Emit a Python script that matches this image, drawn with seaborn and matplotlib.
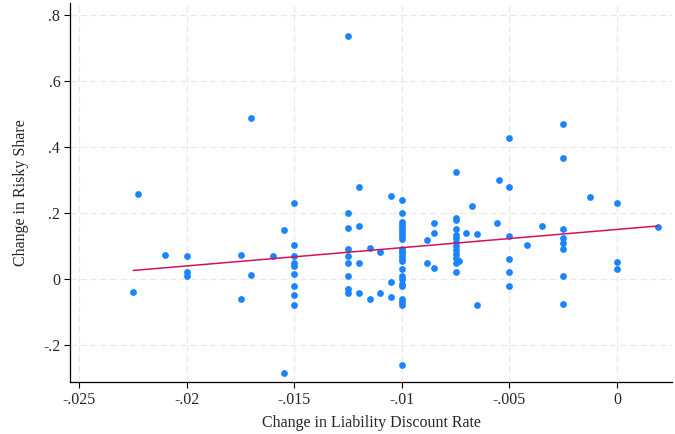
import matplotlib
matplotlib.use("Agg")
import matplotlib.pyplot as plt
import seaborn as sns
import pandas as pd

# ---- data ----
x_vals = [
    -0.0223, -0.0225, -0.021, -0.020, -0.020, -0.020, -0.0175, -0.0175,
    -0.017, -0.017, -0.016, -0.0155, -0.0155,
    -0.015, -0.015, -0.015, -0.015, -0.015, -0.015, -0.015, -0.015, -0.015,
    -0.0125, -0.0125, -0.0125, -0.0125, -0.0125, -0.0125, -0.0125, -0.0125, -0.0125,
    -0.012, -0.012, -0.012, -0.012,
    -0.0115, -0.0115, -0.011, -0.011,
    -0.0105, -0.0105, -0.0105,
    -0.010, -0.010, -0.010, -0.010, -0.010, -0.010, -0.010, -0.010, -0.010, -0.010,
    -0.010, -0.010, -0.010, -0.010, -0.010, -0.010, -0.010, -0.010, -0.010, -0.010,
    -0.010, -0.010, -0.010, -0.010,
    -0.00885, -0.00885,
    -0.0085, -0.0085, -0.0085,
    -0.0075, -0.0075, -0.0075, -0.0075, -0.0075, -0.0075, -0.0075, -0.0075, -0.0075,
    -0.0075, -0.0075, -0.0075, -0.0075,
    -0.00735, -0.007, -0.00675, -0.0065, -0.0065, -0.0056, -0.0055,
    -0.005, -0.005, -0.005, -0.005, -0.005, -0.005,
    -0.0042, -0.0035,
    -0.0025, -0.0025, -0.0025, -0.0025, -0.0025, -0.0025, -0.0025, -0.0025,
    -0.00125, 0.0, 0.0, 0.0, 0.0019,
]
y_vals = [
    0.257, -0.039, 0.073, 0.071, 0.020, 0.010, 0.074, -0.060,
    0.487, 0.011, 0.070, 0.149, -0.284,
    0.230, 0.103, 0.070, 0.049, 0.040, 0.014, -0.020, -0.049, -0.080,
    0.737, 0.199, 0.155, 0.090, 0.070, 0.049, 0.010, -0.030, -0.043,
    0.279, 0.160, 0.049, -0.042,
    0.095, -0.061, 0.081, -0.043,
    0.252, -0.010, -0.054,
    0.239, 0.199, 0.172, 0.163, 0.155, 0.147, 0.138, 0.130, 0.122, 0.092,
    0.085, 0.078, 0.070, 0.062, 0.055, 0.030, 0.010, 0.000, -0.015, -0.022,
    -0.062, -0.070, -0.078, -0.259,
    0.119, 0.048,
    0.170, 0.139, 0.034,
    0.323, 0.186, 0.179, 0.150, 0.133, 0.123, 0.113, 0.100, 0.088,
    0.075, 0.063, 0.048, 0.022,
    0.053, 0.139, 0.222, 0.135, -0.080, 0.170, 0.299,
    0.428, 0.279, 0.130, 0.061, 0.020, -0.020,
    0.103, 0.161,
    0.471, 0.368, 0.150, 0.123, 0.108, 0.090, 0.010, -0.077,
    0.249, 0.231, 0.051, 0.029, 0.159,
]
x_ticks = [-0.025, -0.02, -0.015, -0.01, -0.005, 0.0]
x_tick_labels = ["-.025", "-.02", "-.015", "-.01", "-.005", "0"]
y_ticks = [-0.2, 0.0, 0.2, 0.4, 0.6, 0.8]
y_tick_labels = ["-.2", "0", ".2", ".4", ".6", ".8"]
x_label = "Change in Liability Discount Rate"
y_label = "Change in Risky Share"

df = pd.DataFrame({"x": x_vals, "y": y_vals})

sns.set_theme(style="white")
plt.rcParams["font.family"] = ["Liberation Serif", "DejaVu Serif"]

fig = plt.figure(figsize=(6.75, 4.34), dpi=100)
ax = fig.add_axes([70 / 675, 1 - 382 / 434, 602 / 675, 379 / 434])

sns.scatterplot(data=df, x="x", y="y", ax=ax, color="#1a85ff", s=24,
                linewidth=0, zorder=3)
sns.regplot(data=df, x="x", y="y", ax=ax, scatter=False, ci=None,
            color="#d41159", line_kws={"linewidth": 1.1, "zorder": 4})

ax.set_xlim(-0.02544, 0.00256)
ax.set_ylim(-0.312, 0.836)
ax.set_xticks(x_ticks)
ax.set_xticklabels(x_tick_labels)
ax.set_yticks(y_ticks)
ax.set_yticklabels(y_tick_labels)

ax.grid(True, color="#e8e8e8", linestyle=(0, (5, 3)), linewidth=0.9, zorder=0)
ax.set_axisbelow(True)
for side in ["top", "right"]:
    ax.spines[side].set_visible(False)
for side in ["left", "bottom"]:
    ax.spines[side].set_color("black")
    ax.spines[side].set_linewidth(0.9)

ax.tick_params(axis="both", which="major", direction="out", length=4,
               width=0.8, color="black", labelsize=11.5, pad=3,
               bottom=True, left=True)
ax.set_xlabel(x_label, fontsize=11.5, labelpad=5)
ax.set_ylabel(y_label, fontsize=11.5, labelpad=10)

fig.savefig("out.png", dpi=100, facecolor="white")
